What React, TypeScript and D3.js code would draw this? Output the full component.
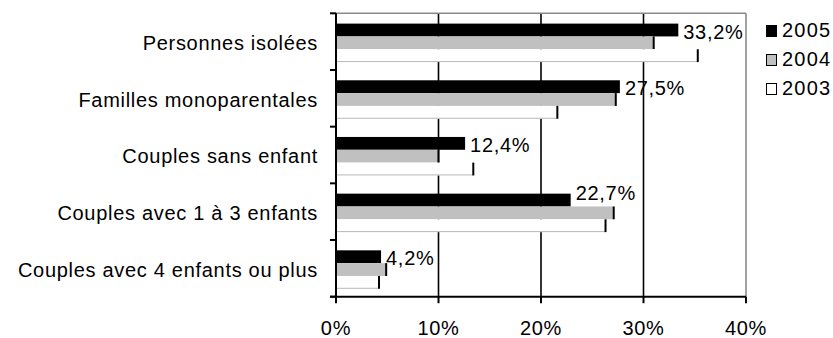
import React from "react";
import * as d3 from "d3";

// Household types, top to bottom
const categories = [
  "Personnes isolées",
  "Familles monoparentales",
  "Couples sans enfant",
  "Couples avec 1 à 3 enfants",
  "Couples avec 4 enfants ou plus",
];

const years = ["2005", "2004", "2003"];

// Share of households (%) per year
const values2005 = [33.2, 27.5, 12.4, 22.7, 4.2];
const values2004 = [30.8, 27.1, 9.8, 26.9, 4.7];
const values2003 = [35.1, 21.4, 13.2, 26.1, 4.0];

// Value labels shown for 2005
const labels2005 = ["33,2%", "27,5%", "12,4%", "22,7%", "4,2%"];

const xTicks = [0, 10, 20, 30, 40];
const xTickLabels = ["0%", "10%", "20%", "30%", "40%"];

const fills = ["#000000", "#c0c0c0", "#ffffff"];

const W = 833;
const H = 338;
const plot = { left: 336, right: 746, top: 13.3, bottom: 296.7 };
const font = "'Liberation Sans', Arial, sans-serif";

export default function App() {
  const series = [values2005, values2004, values2003];

  const x = d3.scaleLinear().domain([0, 40]).range([plot.left, plot.right]);
  const y = d3
    .scaleBand<string>()
    .domain(categories)
    .range([plot.top, plot.bottom])
    .paddingInner(0)
    .paddingOuter(0);
  const step = y.step();
  const inner = d3
    .scaleBand<string>()
    .domain(years)
    .range([0, step])
    .paddingInner(0)
    .paddingOuter(0.71);
  const bh = inner.bandwidth();
  const shift = 1.2;

  const boundaries = d3.range(categories.length + 1).map((i) => plot.top + i * step);

  return (
    <svg
      width={W}
      height={H}
      style={{ position: "absolute", left: 0, top: 0, background: "#fff" }}
      fontFamily={font}
    >
      <rect x={0} y={0} width={W} height={H} fill="#fff" />

      {/* gridlines */}
      {xTicks.slice(1, -1).map((t) => (
        <line key={t} x1={x(t)} x2={x(t)} y1={plot.top} y2={plot.bottom} stroke="#000" strokeWidth={1.6} />
      ))}
      {/* plot frame top / right */}
      <line x1={plot.left} x2={plot.right} y1={plot.top} y2={plot.top} stroke="#8a8a8a" strokeWidth={1.6} />
      <line x1={plot.right} x2={plot.right} y1={plot.top} y2={plot.bottom} stroke="#8a8a8a" strokeWidth={1.6} />

      {/* bars */}
      {categories.map((c, ci) => (
        <g key={c}>
          {series.map((vals, si) => {
            const y0 = (y(c) as number) + (inner(years[si]) as number) + shift;
            const xe = x(vals[ci]) + 2;
            return (
              <g key={si}>
                <rect x={x(0)} y={y0} width={xe - x(0)} height={bh} fill={fills[si]} />
                {si === 2 && (
                  <line x1={x(0)} x2={xe} y1={y0 + bh - 0.5} y2={y0 + bh - 0.5} stroke="#b8b8b8" strokeWidth={1} />
                )}
                {si > 0 && (
                  <line x1={xe} x2={xe} y1={y0} y2={y0 + bh} stroke="#000" strokeWidth={2} />
                )}
              </g>
            );
          })}
        </g>
      ))}

      {/* value labels for 2005 */}
      {categories.map((c, ci) => {
        const yTop = (y(c) as number) + (inner(years[0]) as number) + shift;
        const lifted = values2004[ci] > values2005[ci] + 1;
        const baseline = lifted ? yTop + 6.5 : yTop + bh / 2 + 8.5;
        return (
          <text
            key={c}
            x={x(values2005[ci]) + 7}
            y={baseline}
            fontSize={20}
            letterSpacing={0.7}
            fill="#000"
          >
            {labels2005[ci]}
          </text>
        );
      })}

      {/* axes */}
      <line x1={plot.left} x2={plot.left} y1={plot.top} y2={plot.bottom} stroke="#000" strokeWidth={2} />
      <line x1={plot.left - 6} x2={plot.right} y1={plot.bottom} y2={plot.bottom} stroke="#000" strokeWidth={2} />
      {boundaries.map((b, i) => (
        <line key={i} x1={plot.left - 6} x2={plot.left} y1={b} y2={b} stroke="#000" strokeWidth={2} />
      ))}
      {xTicks.map((t, i) => (
        <g key={t}>
          <line x1={x(t)} x2={x(t)} y1={plot.bottom} y2={plot.bottom + 6.5} stroke="#000" strokeWidth={2} />
          <text x={x(t)} y={334.5} textAnchor="middle" fontSize={20} letterSpacing={0.7} fill="#000">
            {xTickLabels[i]}
          </text>
        </g>
      ))}

      {/* category labels */}
      {categories.map((c) => (
        <text
          key={c}
          x={318}
          y={(y(c) as number) + step / 2 + 8.3}
          textAnchor="end"
          fontSize={20}
          letterSpacing={0.7}
          fill="#000"
        >
          {c}
        </text>
      ))}

      {/* legend */}
      {years.map((yr, i) => {
        const base = 37 + i * 29;
        return (
          <g key={yr}>
            <rect x={766.5} y={base - 11.5} width={10} height={11} fill={fills[i]} stroke="#000" strokeWidth={1} />
            <text x={782} y={base} fontSize={20} letterSpacing={1.2} fill="#000">
              {yr}
            </text>
          </g>
        );
      })}
    </svg>
  );
}
